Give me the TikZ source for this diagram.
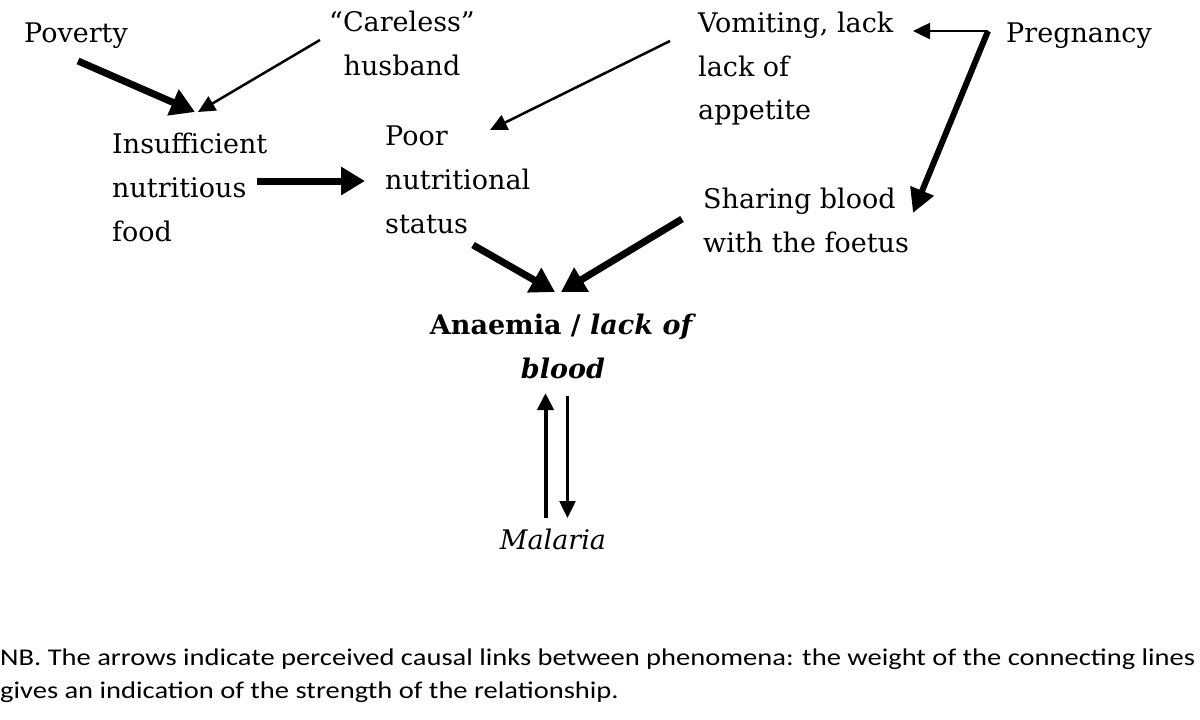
\documentclass[tikz,border=0pt]{standalone}
\usepackage{fontspec}
\setmainfont{DejaVu Serif}
\newfontfamily\nbfont{Carlito}
\usetikzlibrary{arrows.meta}
\begin{document}
\begin{tikzpicture}[x=1pt,y=-1pt,
  lbl/.style={inner sep=0pt, font=\fontsize{27}{44}\selectfont},
  bigarrow/.style={line width=7pt, -{Triangle[length=24pt,width=27pt]}},
  midarrow/.style={line width=6pt, -{Triangle[length=24pt,width=24pt]}},
  uparrow/.style={line width=4pt, -{Triangle[length=17pt,width=16pt]}},
  thinarrow/.style={line width=2.5pt, -{Triangle[length=17pt,width=16pt]}}
]
\useasboundingbox (0,0) rectangle (1200,720);

% labels
\node[lbl, anchor=base west] (pov) at (24,42) {Poverty};
\node[lbl, anchor=base] (care) at (402,31) {\begin{tabular}[t]{@{}c@{}}“Careless”\\husband\end{tabular}};
\node[lbl, anchor=base west] (insuf) at (112,153) {\begin{tabular}[t]{@{}l@{}}Insufficient\\nutritious\\food\end{tabular}};
\node[lbl, anchor=base west] (poor) at (385,145) {\begin{tabular}[t]{@{}l@{}}Poor\\nutritional\\status\end{tabular}};
\node[lbl, anchor=base west] (vom) at (698,32) {\begin{tabular}[t]{@{}l@{}}Vomiting, lack\\lack of\\appetite\end{tabular}};
\node[lbl, anchor=base west] (preg) at (1006,42) {Pregnancy};
\node[lbl, anchor=base west] (share) at (703,208) {\begin{tabular}[t]{@{}l@{}}Sharing blood\\with the foetus\end{tabular}};
\node[lbl, anchor=base] (anaemia) at (563,334) {\begin{tabular}[t]{@{}c@{}}\textbf{Anaemia / \textit{lack of}}\\\textbf{\textit{blood}}\end{tabular}};
\node[lbl, anchor=base] (malaria) at (553,549) {\textit{Malaria}};
\node[inner sep=0pt, anchor=base west] (nb) at (0,665) {\nbfont\fontsize{24}{33}\selectfont\resizebox{1195pt}{\height}{\begin{tabular}[t]{@{}l@{}}NB. The arrows indicate perceived causal links between phenomena: the weight of the connecting lines\\gives an indication of the strength of the relationship.\end{tabular}}};

% connector end points
\coordinate (povS) at (78,61);
\coordinate (insufT) at (195,112);
\coordinate (careS) at (320,40);
\coordinate (insufT2) at (198,112);
\coordinate (insufE) at (257,181);
\coordinate (poorW) at (365,181);
\coordinate (vomS) at (670,41);
\coordinate (poorT) at (490,130);
\coordinate (pregJ) at (988,31);
\coordinate (vomE) at (913,31);
\coordinate (shareT) at (913,213);
\coordinate (poorS) at (473,245);
\coordinate (anaT1) at (555,292);
\coordinate (shareS) at (682,219);
\coordinate (anaT2) at (561,292);
\coordinate (malUpS) at (545.5,518);
\coordinate (anaB1) at (545.5,393);
\coordinate (anaB2) at (567.5,396);
\coordinate (malT) at (567.5,518);

% connectors
\draw[bigarrow] (povS) -- (insufT);
\draw[thinarrow] (careS) -- (insufT2);
\draw[bigarrow] (insufE) -- (poorW);
\draw[thinarrow] (vomS) -- (poorT);
\draw[thinarrow] (pregJ) -- (vomE);
\draw[midarrow] (pregJ) -- (shareT);
\draw[bigarrow] (poorS) -- (anaT1);
\draw[bigarrow] (shareS) -- (anaT2);
\draw[uparrow] (malUpS) -- (anaB1);
\draw[thinarrow] (anaB2) -- (malT);
\end{tikzpicture}
\end{document}
